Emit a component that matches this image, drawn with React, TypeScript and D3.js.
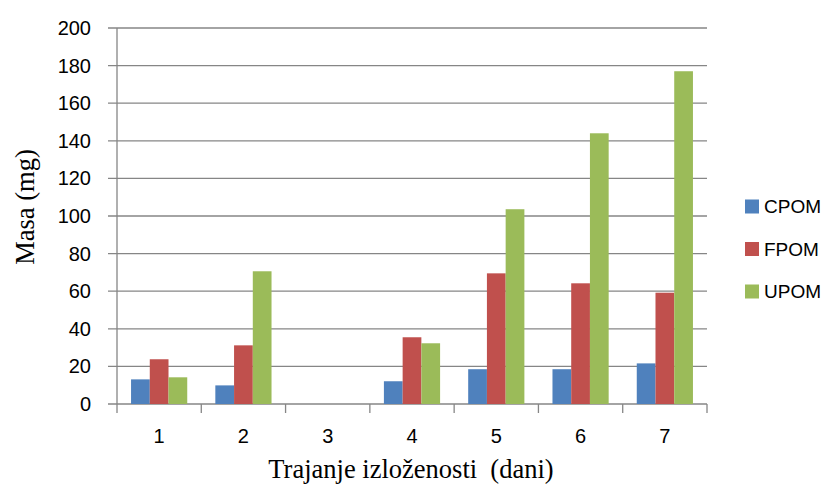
import React from "react";
import * as d3 from "d3";

const categories = ["1", "2", "3", "4", "5", "6", "7"];
const seriesNames = ["CPOM", "FPOM", "UPOM"];
const cpom = [13.1, 9.9, 0, 12.1, 18.5, 18.5, 21.6];
const fpom = [23.8, 31.2, 0, 35.5, 69.5, 64.2, 59.2];
const upom = [14.2, 70.6, 0, 32.3, 103.6, 144, 177];
const yTicks = [0, 20, 40, 60, 80, 100, 120, 140, 160, 180, 200];
const colors = ["#4F81BD", "#C0504D", "#9BBB59"];

export default function App() {
  const W = 831, H = 489;
  const left = 117, right = 707, top = 28, bottom = 404;
  const x = d3.scaleBand<string>().domain(categories).range([left, right]).paddingInner(0).paddingOuter(0);
  const bw = x.bandwidth();
  const barW = bw / 4.5;
  const inner = d3.scaleBand<string>().domain(seriesNames).range([0.75 * barW, 3.75 * barW]);
  const y = d3.scaleLinear().domain([0, 200]).range([bottom, top]);
  const data = [cpom, fpom, upom];
  const axisColor = "#868686";
  const tickFont = "'Liberation Sans', Arial, sans-serif";
  const serif = "'Liberation Serif', 'Times New Roman', serif";
  const boundaries = [...categories.map((c) => x(c)!), right];

  return (
    <svg width={W} height={H} style={{ position: "absolute", left: 0, top: 0, background: "#fff" }}>
      {yTicks.map((t) => (
        <g key={t}>
          <line x1={left - 9} x2={right} y1={y(t)} y2={y(t)} stroke={axisColor} strokeWidth={1.3} />
          <text x={91} y={y(t)} dy="0.35em" textAnchor="end" fontFamily={tickFont} fontSize={20} fill="#000">{t}</text>
        </g>
      ))}
      <line x1={left} x2={left} y1={top} y2={bottom} stroke={axisColor} strokeWidth={1.3} />
      {boundaries.map((b, i) => (
        <line key={i} x1={b} x2={b} y1={bottom} y2={bottom + 9} stroke={axisColor} strokeWidth={1.3} />
      ))}
      {data.map((vals, si) =>
        vals.map((v, ci) =>
          v > 0 ? (
            <rect
              key={`${si}-${ci}`}
              x={x(categories[ci])! + inner(seriesNames[si])!}
              y={y(v)}
              width={inner.bandwidth()}
              height={bottom - y(v)}
              fill={colors[si]}
            />
          ) : null
        )
      )}
      {categories.map((c) => (
        <text key={c} x={x(c)! + bw / 2} y={436} dy="0.35em" textAnchor="middle" fontFamily={tickFont} fontSize={20} fill="#000">{c}</text>
      ))}
      <text x={411} y={478} textAnchor="middle" fontFamily={serif} fontSize={26.5} fill="#000" style={{ whiteSpace: "pre" }}>
        Trajanje izloženosti  (dani)
      </text>
      <text transform={`translate(25,207) rotate(-90)`} dy="0.35em" textAnchor="middle" fontFamily={serif} fontSize={26.5} fill="#000">
        Masa (mg)
      </text>
      {seriesNames.map((s, i) => {
        const cy = 206.5 + i * 42.5;
        return (
          <g key={s}>
            <rect x={745} y={cy - 7} width={14} height={14} fill={colors[i]} />
            <text x={764} y={cy} dy="0.35em" fontFamily={tickFont} fontSize={19} fill="#000">{s}</text>
          </g>
        );
      })}
    </svg>
  );
}
